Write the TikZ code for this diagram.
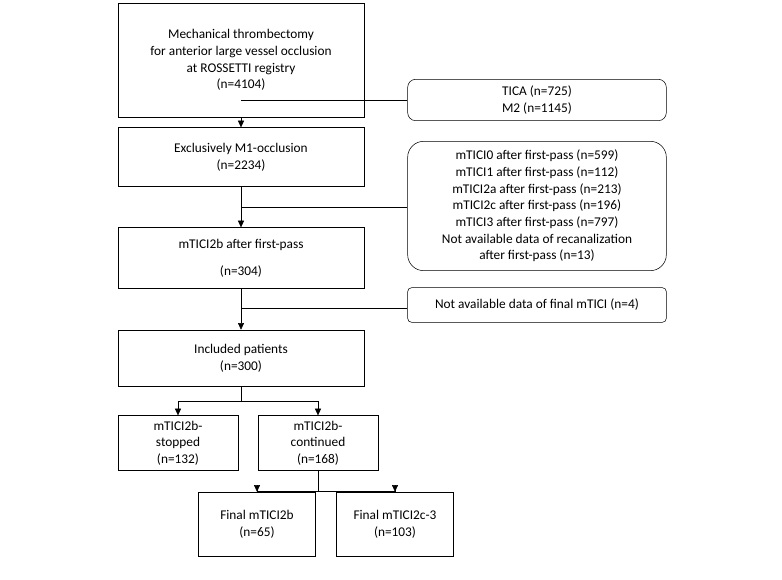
\documentclass[tikz,border=0pt]{standalone}
\usepackage{fontspec}
\setmainfont{Carlito}
\usetikzlibrary{positioning,arrows.meta}
\begin{document}
\begin{tikzpicture}[x=0.75pt,y=-0.75pt]\fontsize{10}{12.5}\selectfont
	\tikzset{box/.style={draw,align=center,inner sep=1pt},
		side/.style={box,rounded corners=6pt},
		arr/.style={-{Triangle[length=5pt,width=4.5pt]}}}
	\useasboundingbox (0,0) rectangle (782,580);
	\node[box,minimum width=184.5pt,minimum height=85.5pt] (reg) at (241,60) {Mechanical thrombectomy\\for anterior large vessel occlusion\\at ROSSETTI registry\\(n=4104)};
	\node[side,minimum width=194pt,minimum height=31pt] (exc1) at (537,100) {TICA (n=725)\\M2 (n=1145)};
	\node[box,minimum width=184.5pt,minimum height=44pt] (m1) at (241,157) {Exclusively M1-occlusion\\(n=2234)};
	\node[side,rounded corners=12pt,minimum width=194pt,minimum height=97pt] (exc2) at (537,206) {mTICI0 after first-pass (n=599)\\mTICI1 after first-pass (n=112)\\mTICI2a after first-pass (n=213)\\mTICI2c after first-pass (n=196)\\mTICI3 after first-pass (n=797)\\Not available data of recanalization\\after first-pass (n=13)};
	\node[box,minimum width=184.5pt,minimum height=45.5pt] (fp) at (241,258) {mTICI2b after first-pass\\[8pt](n=304)};
	\node[side,rounded corners=3pt,minimum width=194pt,minimum height=26pt] (exc3) at (537,305) {Not available data of final mTICI (n=4)};
	\node[box,minimum width=184.5pt,minimum height=42pt] (inc) at (241,358) {Included patients\\(n=300)};
	\node[box,minimum width=90pt,minimum height=41pt] (stop) at (178,443) {mTICI2b-\\stopped\\(n=132)};
	\node[box,minimum width=90pt,minimum height=41pt] (cont) at (318,443) {mTICI2b-\\continued\\(n=168)};
	\node[box,minimum width=88pt,minimum height=48pt] (f2b) at (257,524) {Final mTICI2b\\(n=65)};
	\node[box,minimum width=88pt,minimum height=48pt] (f2c) at (395,524) {Final mTICI2c-3\\(n=103)};
	\coordinate (j1) at (241,100);
	\coordinate (j2) at (241,207);
	\coordinate (j3) at (241,308);
	\draw[arr] (reg) -- (m1);
	\draw (j1) -- (exc1.west |- j1);
	\draw[arr] (m1) -- (fp);
	\draw (j2) -- (exc2.west |- j2);
	\draw[arr] (fp) -- (inc);
	\draw (j3) -- (exc3.west |- j3);
	\draw[arr] (inc.south) -- ++(0,15) -| (stop.north);
	\draw[arr] (inc.south) ++(0,15) -| (cont.north);
	\draw[arr] (cont.south) -- ++(0,21) -| (f2b.north);
	\draw[arr] (cont.south) ++(0,21) -| (f2c.north);
\end{tikzpicture}
\end{document}
